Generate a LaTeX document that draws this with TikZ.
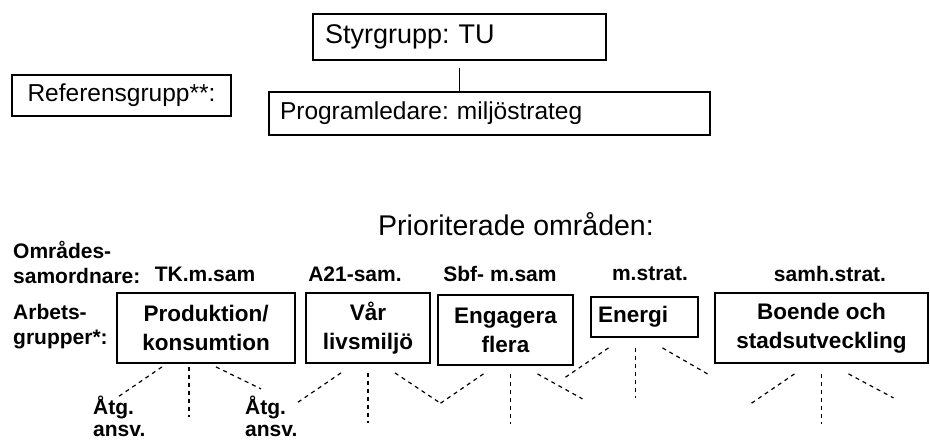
\documentclass[tikz,border=0pt]{standalone}
\usepackage{fontspec}
\setmainfont{Liberation Sans}
\frenchspacing

\begin{document}
\begin{tikzpicture}[x=1pt,y=-1pt,
    top node/.style={draw,line width=1.8pt,inner sep=0pt},
    group node/.style={draw,line width=1.8pt,inner sep=0pt,align=center,
                       font=\bfseries\fontsize{22.5}{29}\selectfont},
    label node/.style={inner sep=0pt,align=left,font=\bfseries\fontsize{21}{25}\selectfont},
    link/.style={line width=1.2pt,dash pattern=on 4pt off 4pt}]

  \useasboundingbox (0,0) rectangle (930,441);

  % ledning
  \node[top node,text width=269pt,inner xsep=12pt,minimum height=46pt,align=left,
        font=\fontsize{27}{30}\selectfont] (styr) at (459.5,37) {Styrgrupp: TU};
  \node[top node,text width=419pt,inner xsep=11pt,minimum height=43pt,align=left,
        font=\fontsize{24.5}{28}\selectfont] (prog) at (489.5,113.5) {Programledare: miljöstrateg};
  \node[top node,minimum width=219pt,minimum height=41pt,
        font=\fontsize{24.5}{28}\selectfont] (ref) at (121.5,95.5) {Referensgrupp**:};
  \draw[line width=1.5pt] ([yshift=-7pt]styr.south) -- (styr.south |- prog.north);

  \node[font=\fontsize{28.5}{32}\selectfont] (prio) at (516,224) {Prioriterade områden:};

  % rader
  \node[label node,anchor=west] (samord) at (13,262) {Områdes-\\samordnare:};
  \node[label node,anchor=west] (arbets) at (13,327) {Arbets-\\grupper*:};

  \node[label node] (tk) at (205,274) {TK.m.sam};
  \node[label node] (a21) at (355,274) {A21-sam.};
  \node[label node] (sbf) at (500,274) {Sbf- m.sam};
  \node[label node] (mstrat) at (650,274) {m.strat.};
  \node[label node] (samh) at (830,274) {samh.strat.};

  % arbetsgrupper
  \node[group node,minimum width=178pt,minimum height=70pt] (prod) at (206,328) {Produktion/\\konsumtion};
  \node[group node,minimum width=124pt,minimum height=70pt] (var) at (368,328) {Vår\\livsmiljö};
  \node[group node,minimum width=135pt,minimum height=70pt] (eng) at (505.5,330) {Engagera\\flera};
  \node[group node,text width=93pt,inner xsep=7pt,minimum height=40pt,align=left] (ene) at (644.5,317) {Energi};
  \node[group node,minimum width=213pt,minimum height=70pt] (boe) at (821.5,328) {Boende och\\stadsutveckling};

  \node[label node,anchor=west,font=\bfseries\fontsize{21}{22}\selectfont] (atg1) at (93,416) {Åtg.\\ansv.};
  \node[label node,anchor=west,font=\bfseries\fontsize{21}{22}\selectfont] (atg2) at (245,416) {Åtg.\\ansv.};

  % streckade linjer
  \foreach \g/\dx/\gap/\ry in {prod/-17/3/22, var/0/9/30, eng/5/8/25, ene/-9/10/26, boe/0/10/24} {
    \coordinate (\g fan) at ([xshift=\dx pt,yshift=-\gap pt]\g.south);
    \draw[link] (\g fan) ++(-27,0) -- ++(-44,30);
    \draw[link] (\g fan) -- ++(0,50);
    \draw[link] (\g fan) ++(27,0) -- ++(45,\ry);
  }
\end{tikzpicture}
\end{document}
